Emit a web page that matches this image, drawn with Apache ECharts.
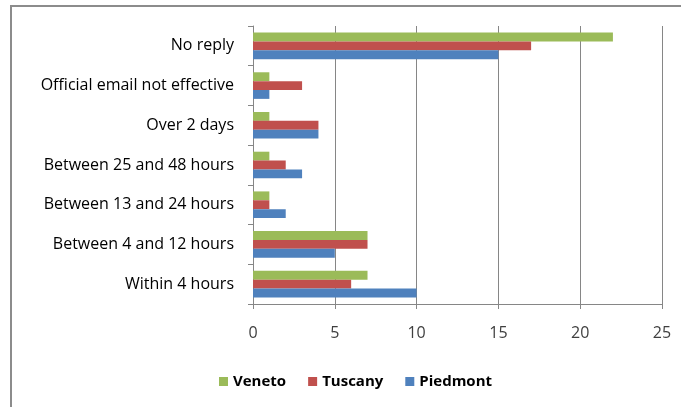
<!DOCTYPE html>
<html>
<head>
<meta charset="utf-8">
<script src="https://cdn.jsdelivr.net/npm/echarts@6/dist/echarts.min.js"></script>
<style>
  html, body { margin: 0; padding: 0; background: #fff; }
  #frame { position: absolute; left: 10px; top: 5px; width: 671px; height: 402px;
           border-top: 2px solid #8c8c8c; border-left: 2px solid #8c8c8c; }
  #chart { position: absolute; left: 0; top: 0; width: 681px; height: 407px; }
</style>
</head>
<body>
<div id="frame"></div>
<div id="chart"></div>
<script>
const categories = [
  'Within 4 hours',
  'Between 4 and 12 hours',
  'Between 13 and 24 hours',
  'Between 25 and 48 hours',
  'Over 2 days',
  'Official email not effective',
  'No reply'
];
const piedmont = [10, 5, 2, 3, 4, 1, 15];
const tuscany = [6, 7, 1, 2, 4, 3, 17];
const veneto = [7, 7, 1, 1, 1, 1, 22];

const chart = echarts.init(document.getElementById('chart'));
const font = '"Open Sans", Lato, sans-serif';
const bar = (name, data, color) => ({
  type: 'bar', name, data, barGap: '0%', barCategoryGap: '33%',
  itemStyle: { color }
});

chart.setOption({
  animation: false,
  textStyle: { fontFamily: font },
  grid: { left: 253, right: 19, top: 26, bottom: 103 },
  legend: {
    bottom: 13, left: 214, itemWidth: 9, itemHeight: 9, itemGap: 22,
    icon: 'rect', textStyle: { fontFamily: font, fontSize: 15, fontWeight: 'bold', color: '#000' }
  },
  xAxis: {
    type: 'value', min: 0, max: 25, interval: 5,
    axisLine: { show: true, lineStyle: { color: '#868686' } },
    axisTick: { show: true, length: 5, lineStyle: { color: '#868686' } },
    axisLabel: { color: '#404040', fontSize: 16, margin: 21 },
    splitLine: { lineStyle: { color: '#868686' } }
  },
  yAxis: {
    type: 'category', data: categories,
    axisLine: { lineStyle: { color: '#868686' } },
    axisTick: { show: true, length: 5, lineStyle: { color: '#868686' } },
    axisLabel: { color: '#000', fontSize: 16, margin: 19 }
  },
  series: [
    bar('Veneto', veneto, '#9BBB59'),
    bar('Tuscany', tuscany, '#C0504D'),
    bar('Piedmont', piedmont, '#4F81BD')
  ]
});
</script>
</body>
</html>
